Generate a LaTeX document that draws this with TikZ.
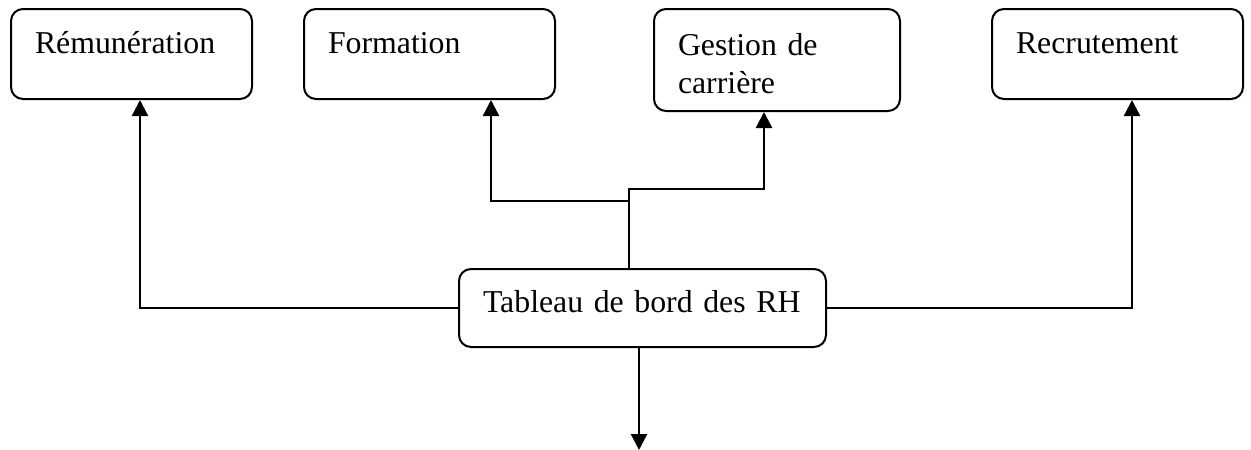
\documentclass[tikz,border=0pt]{standalone}
\usepackage{fontspec}
\setmainfont{Liberation Serif}
\usetikzlibrary{arrows.meta}

\begin{document}
\begin{tikzpicture}[x=1pt,y=-1pt,
  box/.style={draw, line width=2pt, rounded corners=12pt,
    inner xsep=24pt, inner ysep=0pt, align=left,
    font=\fontsize{31.8}{38}\selectfont},
  arr/.style={line width=2.4pt, -{Triangle[width=16pt,length=16pt]}}]
\useasboundingbox (0,0) rectangle (1251,450);

% top row of boxes (text kept at the upper left, as in a word-processor frame)
\node[box, text width=193pt, text height=44pt, text depth=46pt] (rem) at (131.5,54) {Rémunération};
\node[box, text width=203pt, text height=44pt, text depth=46pt] (form) at (429.5,54) {Formation};
\node[box, text width=198pt, text height=46pt, text depth=56pt] (ges) at (777,60) {Gestion de\\carrière};
\node[box, text width=203pt, text height=44pt, text depth=46pt] (rec) at (1117.5,54) {Recrutement};

% central dashboard
\node[box, text width=319pt, text height=43pt, text depth=35pt] (tab) at (642.5,308) {Tableau de bord des RH};

% free end of the outgoing arrow
\coordinate (out) at (639,450);

% side branches
\draw[arr] (tab.west) -| ([xshift=8.5pt]rem.south);
\draw[arr] (tab.east) -| ([xshift=14.5pt]rec.south);

% middle branches
\draw[arr] ([xshift=-13.5pt]tab.north) -- ++(0,-67) -| ([xshift=61.5pt]form.south);
\draw[arr] ([xshift=-13.5pt]tab.north) -- ++(0,-79) -| ([xshift=-13pt]ges.south);

% outgoing arrow
\draw[arr] (tab.south -| out) -- (out);
\end{tikzpicture}
\end{document}
